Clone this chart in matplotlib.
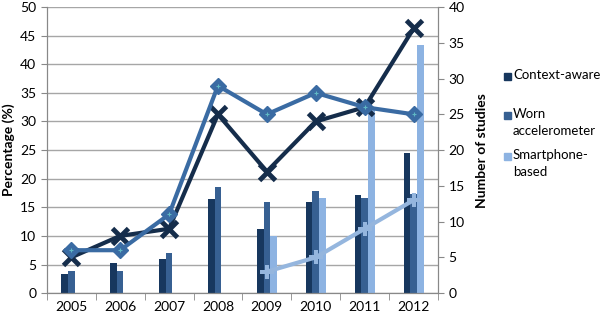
import matplotlib
matplotlib.use("Agg")
import matplotlib.pyplot as plt
from matplotlib.patches import Rectangle
import numpy as np

plt.rcParams['font.family'] = ['Lato', 'DejaVu Sans']

years = ['2005', '2006', '2007', '2008', '2009', '2010', '2011', '2012']

# percentages (bars, left axis)
pct_context = [3.3, 5.2, 5.9, 16.5, 11.2, 15.9, 17.2, 24.5]
pct_worn = [3.8, 3.8, 7.0, 18.5, 16.0, 17.9, 16.6, 17.4]
pct_smart = [None, None, None, None, 9.9, 16.6, 32.0, 43.3]

# number of studies (lines, right axis)
n_context = [5, 8, 9, 25, 17, 24, 26, 37]
n_worn = [6, 6, 11, 29, 25, 28, 26, 25]
n_smart = [None, None, None, None, 3, 5, 9, 13]

labels = ['Context-aware', 'Worn\naccelerometer', 'Smartphone-\nbased']
c_context = '#17375e'
c_worn = '#376092'
c_smart = '#8db3e2'

fig = plt.figure(figsize=(6, 3.2), dpi=100)
ax = fig.add_axes([0.078, 0.084, 0.652, 0.894])
ax2 = ax.twinx()

x = np.arange(len(years))
w = 0.137

def clean(v):
    return np.array([np.nan if a is None else a for a in v], dtype=float)

ax.bar(x - w, clean(pct_context), w, color=c_context, zorder=2)
ax.bar(x, clean(pct_worn), w, color=c_worn, zorder=2)
ax.bar(x + w, clean(pct_smart), w, color=c_smart, zorder=2)

ax2.plot(x, clean(n_context), color='#152d4b', lw=3, marker='x', ms=11, mew=3.5)
ax2.plot(x, clean(n_worn), color='#3a6ba3', lw=3, marker='D', ms=8,
         mfc='#3a6ba3', mec='#3a6ba3')
ax2.plot(x, clean(n_worn), ls='none', marker='+', ms=3, mew=0.8, color='#5fb8c4')
ax2.plot(x, clean(n_smart), color='#95b6de', lw=3, marker='P', ms=10, mew=0)

ax.set_xlim(-0.5, len(years) - 0.5)
ax.set_ylim(0, 50)
ax2.set_ylim(0, 40)
ax.set_yticks(np.arange(0, 51, 5))
ax2.set_yticks(np.arange(0, 41, 5))
ax.set_xticks(x)
ax.set_xticklabels(years)
ax.set_xticks(np.arange(-0.5, len(years), 1), minor=True)
ax.tick_params(axis='x', which='major', length=0, labelsize=10, pad=6)
ax.tick_params(axis='x', which='minor', length=5, color='#888888')
ax.tick_params(axis='y', length=4, color='#888888', labelsize=10)
ax2.tick_params(axis='y', length=4, color='#888888', labelsize=10)

ax.yaxis.grid(True, color='#a6a6a6', lw=1)
ax.set_axisbelow(True)
for a in (ax, ax2):
    a.spines['top'].set_visible(False)
    for s in ('left', 'bottom', 'right'):
        a.spines[s].set_color('#888888')
ax.set_zorder(ax2.get_zorder() - 1)
ax.patch.set_visible(False)

ax.set_ylabel('Percentage (%)', fontweight='bold', fontsize=10, labelpad=4)
ax2.set_ylabel('Number of studies', fontweight='bold', fontsize=10, labelpad=8)

# legend drawn by hand (Excel style: square aligned with first text line)
W, H = 600.0, 320.0
for lab, col, ytop in zip(labels, [c_context, c_worn, c_smart], [76, 115, 156]):
    fig.patches.append(Rectangle((504 / W, 1 - (ytop + 3.5) / H), 7 / W, 7 / H,
                                 transform=fig.transFigure, color=col))
    fig.text(513 / W, 1 - (ytop - 7) / H, lab, fontsize=9.5, va='top', ha='left',
             linespacing=1.5)

fig.savefig('out.png', dpi=100)
